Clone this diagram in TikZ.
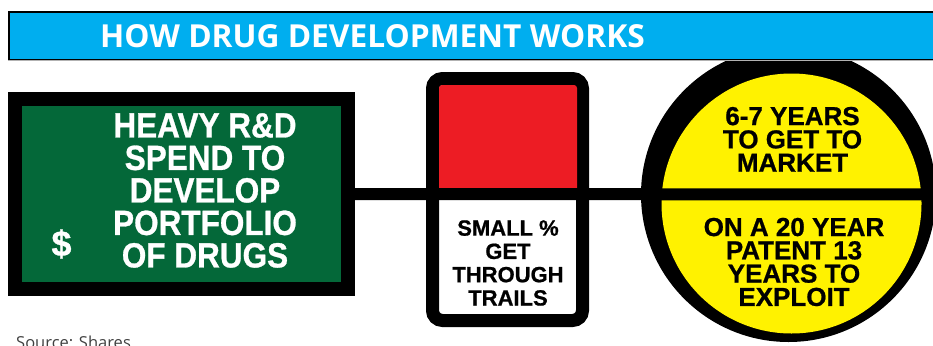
\documentclass[tikz,border=0pt]{standalone}
\usepackage{fontspec}
\setmainfont{Liberation Sans}[BoldFeatures={FakeBold=0.8}]
\newfontfamily\headfont{Open Sans}
\newfontfamily\narrowfont{Liberation Sans}[FakeStretch=0.9, BoldFeatures={FakeBold=0.8}]
\definecolor{barblue}{RGB}{0,174,239}
\definecolor{spendgreen}{RGB}{4,104,57}
\definecolor{trialred}{RGB}{237,28,36}
\definecolor{dialyellow}{RGB}{255,242,0}
\definecolor{sourcegray}{RGB}{64,64,64}

\begin{document}
\begin{tikzpicture}[x=1pt, y=-1pt,
  bigtxt/.style={text=white, font=\narrowfont\bfseries\fontsize{35}{32.5}\selectfont, align=center, inner sep=0},
  smalltxt/.style={text=black, font=\bfseries\fontsize{22}{23.3}\selectfont, align=center, inner sep=0},
  dialtxt/.style={text=black, font=\bfseries\fontsize{26}{23.3}\selectfont, align=center, inner sep=0},
  link/.style={line width=12, black}]
\useasboundingbox (0,0) rectangle (933,345);
\clip (0,0) rectangle (933,345);

%%%%%%%%%%%%%-------------dial
\node[circle, fill=black, inner sep=0, minimum size=295] (dial) at (788.5,194.5) {};
\node[circle, fill=dialyellow, inner sep=0, minimum size=260] (face) at (791.5,203.5) {};

%%%%%%%%%%%%%-------------banner
\node[rectangle, fill=barblue, draw=black, line width=2, inner sep=0, minimum width=940, minimum height=48, anchor=north west] (banner) at (8,11) {};
\draw[gray!60, line width=1] (8,60.5) -- (933,60.5);
\node[anchor=base west, text=white, font=\headfont\bfseries\fontsize{31.7}{30}\selectfont, inner sep=0] (title) at (100,48) {HOW DRUG DEVELOPMENT WORKS};

%%%%%%%%%%%%%-------------boxes
\node[rectangle, fill=spendgreen, draw=black, line width=14, inner sep=0, minimum width=333, minimum height=190] (spend) at (181.5,194) {};
\node[rectangle, rounded corners=10, fill=white, draw=black, line width=13, inner sep=0, minimum width=150, minimum height=242] (trials) at (507.5,199.5) {};
\fill[trialred, rounded corners=3] (439,85) rectangle (577,194);

\draw[link] (spend.east) -- (dial.east);

%%%%%%%%%%%%%-------------texts
\node[bigtxt] (spendtxt) at (205,190.5) {HEAVY R\&D\\SPEND TO\\DEVELOP\\PORTFOLIO\\OF DRUGS};
\node[bigtxt, font=\bfseries\fontsize{36}{32.5}\selectfont] (dollar) at (61.5,244) {\$};
\node[smalltxt] (trialtxt) at (508,263) {SMALL \%\\GET\\THROUGH\\TRAILS};
\node[dialtxt] (markettxt) at (792.5,139.3) {6-7 YEARS\\TO GET TO\\MARKET};
\node[dialtxt] (patenttxt) at (794,262) {ON A 20 YEAR\\PATENT 13\\YEARS TO\\EXPLOIT};

\node[anchor=base west, text=sourcegray, font=\headfont\fontsize{16.5}{18}\selectfont, inner sep=0] (source) at (16,348.5) {Source: Shares};
\end{tikzpicture}
\end{document}
